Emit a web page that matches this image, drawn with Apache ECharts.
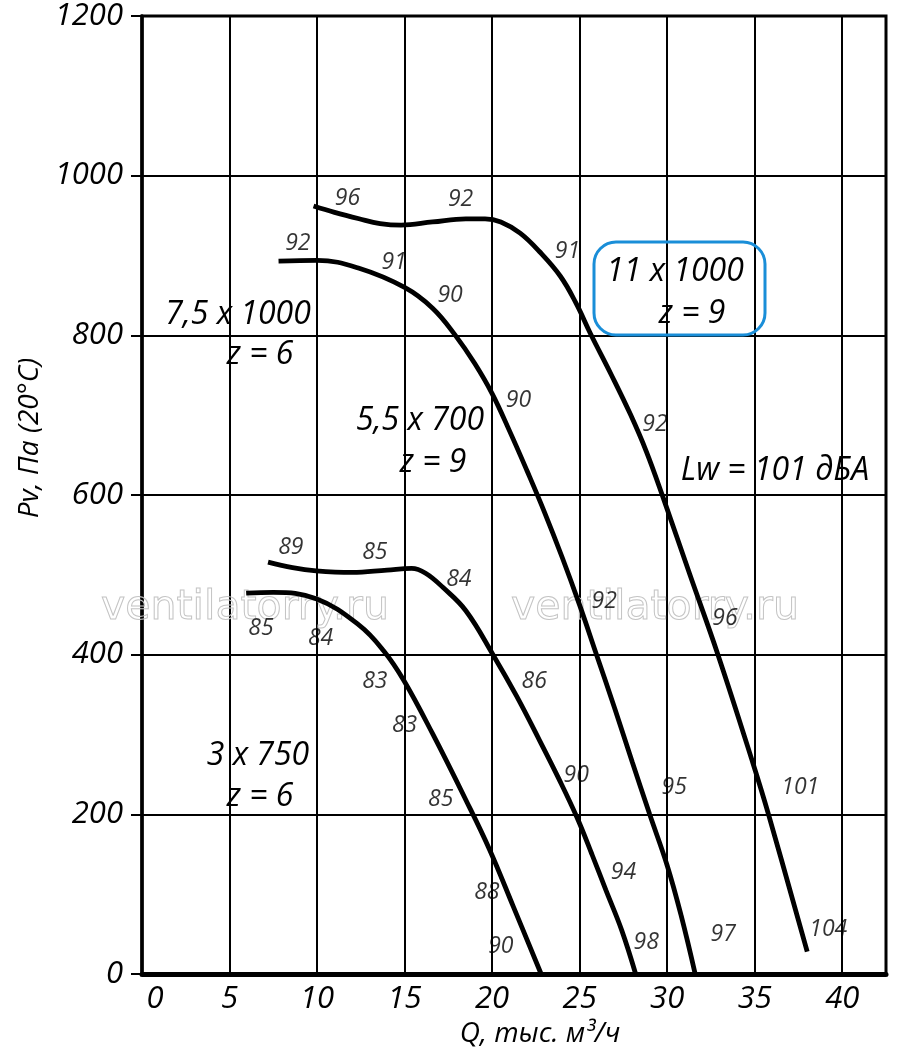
<!DOCTYPE html>
<html>
<head>
<meta charset="utf-8">
<script src="https://cdn.jsdelivr.net/npm/echarts@6/dist/echarts.min.js"></script>
<style>html,body{margin:0;padding:0;background:#fff}#c{width:900px;height:1057px}</style>
</head>
<body>
<div id="c"></div>
<script>
// Axis ticks
const xTicks = [0, 5, 10, 15, 20, 25, 30, 35, 40];
const yTicks = [0, 200, 400, 600, 800, 1000, 1200];

// Curve 11 x 1000, z = 9
const qA = [9.8, 11.0, 12.4, 13.6, 14.8, 16.6, 18.5, 19.6, 20.5, 21.6, 22.7, 23.9, 24.8, 25.6, 26.8, 27.9, 28.8, 29.75, 31.3, 32.9, 34.9, 35.8, 38.0];
const pA = [962, 954, 946, 940, 938, 942, 946, 946, 942, 928, 905, 874, 840, 803, 751, 701, 655, 598, 500, 400, 264, 199, 28];
// Curve 7,5 x 1000, z = 6
const qB = [7.8, 10.0, 12.4, 15.0, 16.6, 17.9, 19.0, 20.0, 21.0, 22.0, 23.0, 24.0, 25.0, 25.9, 27.0, 28.0, 29.0, 30.0, 30.8, 31.6];
const pB = [893, 894, 884, 860, 834, 800, 765, 727, 680, 630, 578, 522, 462, 404, 333, 266, 200, 136, 73, 0];
// Curve 5,5 x 700, z = 9
const qC = [7.2, 8.6, 9.95, 12.0, 14.0, 15.4, 16.2, 17.2, 18.5, 20.05, 21.4, 22.7, 23.8, 24.85, 25.7, 26.5, 27.4, 28.2];
const pC = [516, 509, 505, 503, 506, 508, 502, 484, 455, 400, 348, 293, 245, 196, 150, 105, 55, 0];
// Curve 3 x 750, z = 6
const qD = [5.95, 7.5, 9.95, 12.4, 13.8, 14.95, 16.6, 18.5, 19.85, 21.2, 22.8];
const pD = [477, 478, 470, 437, 405, 368, 301, 218, 156, 85, 0];

// Sound level annotations [Q, Pv, text]
const notesA = [[11.74, 972, '96'], [18.2, 970, '92'], [24.3, 905, '91'], [29.3, 688, '92'], [33.3, 445, '96'], [37.6, 234, '101'], [39.2, 56, '104']];
const notesB = [[8.9, 915, '92'], [14.4, 891, '91'], [17.6, 850, '90'], [21.5, 718, '90'], [26.4, 467, '92'], [30.4, 234, '95'], [33.2, 50, '97']];
const notesC = [[8.5, 534, '89'], [13.3, 528, '85'], [18.1, 494, '84'], [22.4, 367, '86'], [24.8, 249, '90'], [27.5, 127, '94'], [28.8, 39, '98']];
const notesD = [[6.8, 433, '85'], [10.2, 420, '84'], [13.3, 367, '83'], [15.0, 311, '83'], [17.06, 219, '85'], [19.7, 102, '88'], [20.5, 35, '90']];

const FONT = '"Open Sans", "DejaVu Sans", sans-serif';

function zip(q, p) { return q.map((v, i) => [v, p[i]]); }
function curve(name, q, p) {
  return {
    name: name, type: 'line', data: zip(q, p), smooth: 0.4, symbol: 'none',
    lineStyle: { color: '#000', width: 4.8 }, z: 5
  };
}
function notes(name, arr) {
  return {
    name: name, type: 'scatter', data: arr.map(a => ({ value: [a[0], a[1]], label: { formatter: a[2] } })),
    symbolSize: 0, silent: true, z: 6,
    label: { show: true, position: 'inside', color: '#000', fontFamily: FONT, fontStyle: 'italic', fontSize: 23 }
  };
}
function mark(text, cx, cy) {
  return { type: 'text', x: cx, y: cy, z: 1, silent: true,
    style: { text: text, fill: 'rgba(255,255,255,0)', stroke: '#c4c4c4', lineWidth: 1, font: '41px "DejaVu Sans", sans-serif', textAlign: 'center', textVerticalAlign: 'middle' } };
}
function t(text, cx, cy) {
  return { type: 'text', x: cx, y: cy, z: 10,
    style: { text: text, fill: '#000', font: 'italic 32px ' + FONT, textAlign: 'center', textVerticalAlign: 'middle' } };
}

const chart = echarts.init(document.getElementById('c'), null, { renderer: 'canvas' });
chart.setOption({
  animation: false,
  backgroundColor: '#fff',
  grid: { left: 142, right: 14, top: 16, bottom: 83, show: true, borderColor: '#000', borderWidth: 3, backgroundColor: 'transparent' },
  xAxis: {
    type: 'value', min: 0, max: 42.5, interval: 5,
    name: 'Q, тыс. м³/ч', nameLocation: 'middle', nameGap: 44,
    nameTextStyle: { fontFamily: FONT, fontStyle: 'italic', fontSize: 28, color: '#000', padding: [0, 0, 0, 52] },
    axisLine: { show: true, onZero: false, lineStyle: { color: '#000', width: 5 } },
    axisTick: { show: false },
    splitLine: { show: true, lineStyle: { color: '#000', width: 2 } },
    axisLabel: {
      margin: 10, showMaxLabel: false, color: '#000', fontFamily: FONT, fontStyle: 'italic', fontSize: 31,
      formatter: v => (xTicks.indexOf(v) < 0 ? '' : (v === 0 ? '{z|0}' : String(v))),
      rich: { z: { fontFamily: FONT, fontStyle: 'italic', fontSize: 31, color: '#000', padding: [0, 0, 0, 26] } }
    }
  },
  yAxis: {
    type: 'value', min: 0, max: 1200, interval: 200,
    name: 'Pv, Па (20°C)', nameLocation: 'middle', nameGap: 88, nameRotate: 90,
    nameTextStyle: { fontFamily: FONT, fontStyle: 'italic', fontSize: 28, color: '#000', padding: [0, 0, 0, 114] },
    axisLine: { show: true, lineStyle: { color: '#000', width: 3.5 } },
    axisTick: { show: true, length: 11, lineStyle: { color: '#000', width: 2 } },
    splitLine: { show: true, lineStyle: { color: '#000', width: 2 } },
    axisLabel: {
      margin: 19, color: '#000', fontFamily: FONT, fontStyle: 'italic', fontSize: 31,
      formatter: v => (yTicks.indexOf(v) < 0 ? '' : String(v))
    }
  },
  graphic: [
    mark('ventilatorry.ru', 245, 608), mark('ventilatorry.ru', 655, 608),
    t('7,5 x 1000', 238, 315), t('z = 6', 260, 355),
    t('5,5 x 700', 420, 421), t('z = 9', 433, 463),
    t('11 x 1000', 675, 272), t('z = 9', 692, 314),
    t('Lw = 101 дБА', 775, 471),
    t('3 x 750', 258, 756), t('z = 6', 260, 797),
    { type: 'rect', z: 9, shape: { x: 594, y: 242, width: 171, height: 93, r: 22 }, style: { fill: 'rgba(0,0,0,0)', stroke: '#1a8ed8', lineWidth: 3 } }
  ],
  series: [
    curve('11 x 1000', qA, pA), curve('7,5 x 1000', qB, pB), curve('5,5 x 700', qC, pC), curve('3 x 750', qD, pD),
    notes('n11', notesA), notes('n75', notesB), notes('n55', notesC), notes('n3', notesD)
  ]
});
</script>
</body>
</html>
